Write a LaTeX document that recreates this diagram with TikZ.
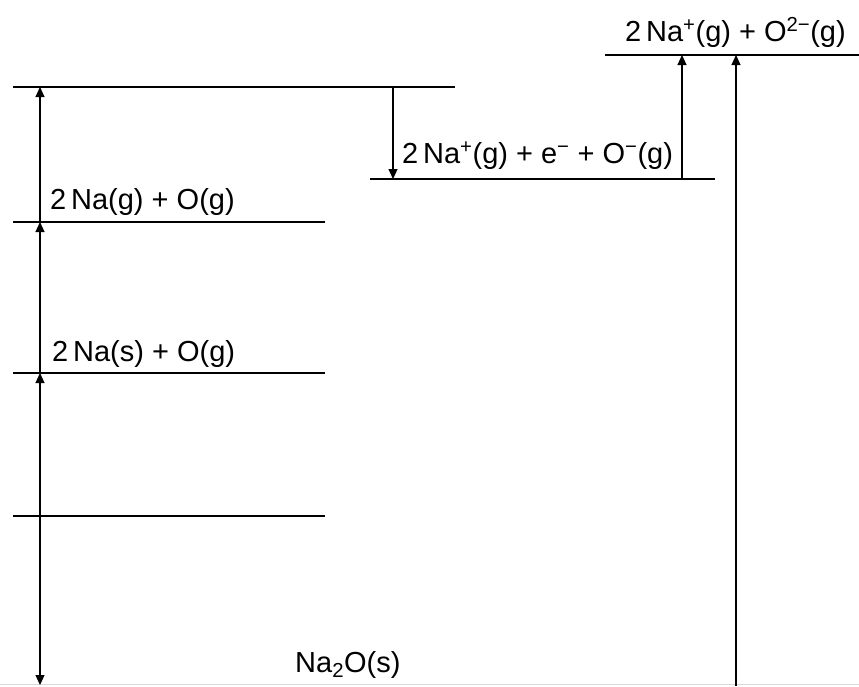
\documentclass[tikz,border=0pt]{standalone}
\usepackage{fontspec}
\setmainfont{Liberation Sans}
\usetikzlibrary{arrows.meta}
\begin{document}
\begin{tikzpicture}[x=1pt,y=-1pt,
  level/.style={line width=1.4pt},
  arr/.style={line width=1.1pt,-{Triangle[length=10pt,width=9pt]}},
  lbl/.style={font=\fontsize{29}{34}\selectfont,inner sep=0pt,anchor=base west}]
\useasboundingbox[fill=white] (0,0) rectangle (859,686);
% level end points
\coordinate (t1) at (605,55);  \coordinate (t2) at (859,55);
\coordinate (a1) at (13,87);   \coordinate (a2) at (455,87);
\coordinate (b1) at (370,179); \coordinate (b2) at (715,179);
\coordinate (c1) at (13,222);  \coordinate (c2) at (325,222);
\coordinate (d1) at (13,373);  \coordinate (d2) at (325,373);
\coordinate (e1) at (13,516);  \coordinate (e2) at (325,516);
\coordinate (f1) at (0,684.5); \coordinate (f2) at (859,684.5);
\draw[level] (t1) -- (t2);
\draw[level] (a1) -- (a2);
\draw[level] (b1) -- (b2);
\draw[level] (c1) -- (c2);
\draw[level] (d1) -- (d2);
\draw[level] (e1) -- (e2);
\draw[level,black!15] (f1) -- (f2);
% labels
\node[lbl] (lt) at (625,41) {2\,Na\textsuperscript{+}(g) + O\textsuperscript{2−}(g)};
\node[lbl] (lb) at (402,163) {2\,Na\textsuperscript{+}(g) + e\textsuperscript{−} + O\textsuperscript{−}(g)};
\node[lbl] (lc) at (50,209) {2\,Na(g) + O(g)};
\node[lbl] (ld) at (52,361) {2\,Na(s) + O(g)};
\node[lbl] (lf) at (295,672) {Na\textsubscript{2}O(s)};
% arrows
\coordinate (x1a) at (40,222); \coordinate (x1b) at (40,87);
\coordinate (x2a) at (40,373); \coordinate (x2b) at (40,222);
\coordinate (x3a) at (40,516); \coordinate (x3b) at (40,373);
\coordinate (x4b) at (40,685);
\coordinate (y1a) at (393,87); \coordinate (y1b) at (393,179);
\coordinate (z1a) at (682,179); \coordinate (z1b) at (682,55);
\coordinate (w1a) at (736,686); \coordinate (w1b) at (736,55);
\draw[arr] (x1a) -- (x1b);
\draw[arr] (x2a) -- (x2b);
\draw[arr] (x3a) -- (x3b);
\draw[arr] (x3a) -- (x4b);
\draw[arr] (y1a) -- (y1b);
\draw[arr] (z1a) -- (z1b);
\draw[arr] (w1a) -- (w1b);
\end{tikzpicture}
\end{document}
